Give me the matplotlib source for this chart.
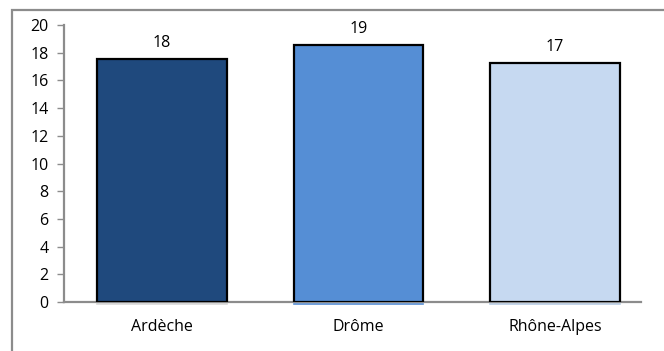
import numpy as np
import matplotlib.pyplot as plt
from matplotlib.patches import Rectangle

plt.rcParams['font.family'] = ['Open Sans', 'DejaVu Sans']

regions = ["Ardèche", "Drôme", "Rhône-Alpes"]
values = [17.55, 18.56, 17.26]
colors = ["#1F497D", "#558ED5", "#C6D9F1"]
glow = ["#D9D9D9", "#558ED5", "#B9CDE5"]
yticks = list(range(0, 21, 2))

W, H = 664, 351
fig = plt.figure(figsize=(W / 100, H / 100), dpi=100)

# outer chart frame, its right and bottom edges run off the canvas
fig.patches.append(Rectangle((12 / W, 0 - 0.05), 1.0, (H - 10) / H + 0.05,
                             transform=fig.transFigure, fill=False,
                             edgecolor="#8C8C8C", linewidth=1.6))

ax = fig.add_axes([64 / W, 1 - 302 / H, (653 - 64) / W, (302 - 25) / H])
x = np.arange(len(regions))
ax.bar(x, values, width=0.662, color=colors, edgecolor="black", linewidth=1.6, zorder=3)

# faint line under each bar
for xi, c in zip(x, glow):
    ax.plot([xi - 0.331, xi + 0.331], [-0.18, -0.18], color=c, lw=1.2,
            clip_on=False, zorder=1)

for xi, v in zip(x, values):
    ax.text(xi, v + 0.6, "%.0f" % v, ha="center", va="bottom", fontsize=11.5)

ax.set_xlim(-0.5, 2.5)
ax.set_ylim(0, 20)
ax.set_yticks(yticks)
ax.set_xticks(x)
ax.set_xticklabels(regions, fontsize=11.5)
ax.tick_params(axis="y", labelsize=11.5, length=5, width=1, color="#8C8C8C", pad=6)
ax.tick_params(axis="x", length=0, pad=12)
for s in ["top", "right"]:
    ax.spines[s].set_visible(False)
for s in ["left", "bottom"]:
    ax.spines[s].set_color("#8C8C8C")
    ax.spines[s].set_linewidth(1.6)
ax.spines["bottom"].set_bounds(-0.5, 2.44)

fig.savefig("out.png", dpi=100)
